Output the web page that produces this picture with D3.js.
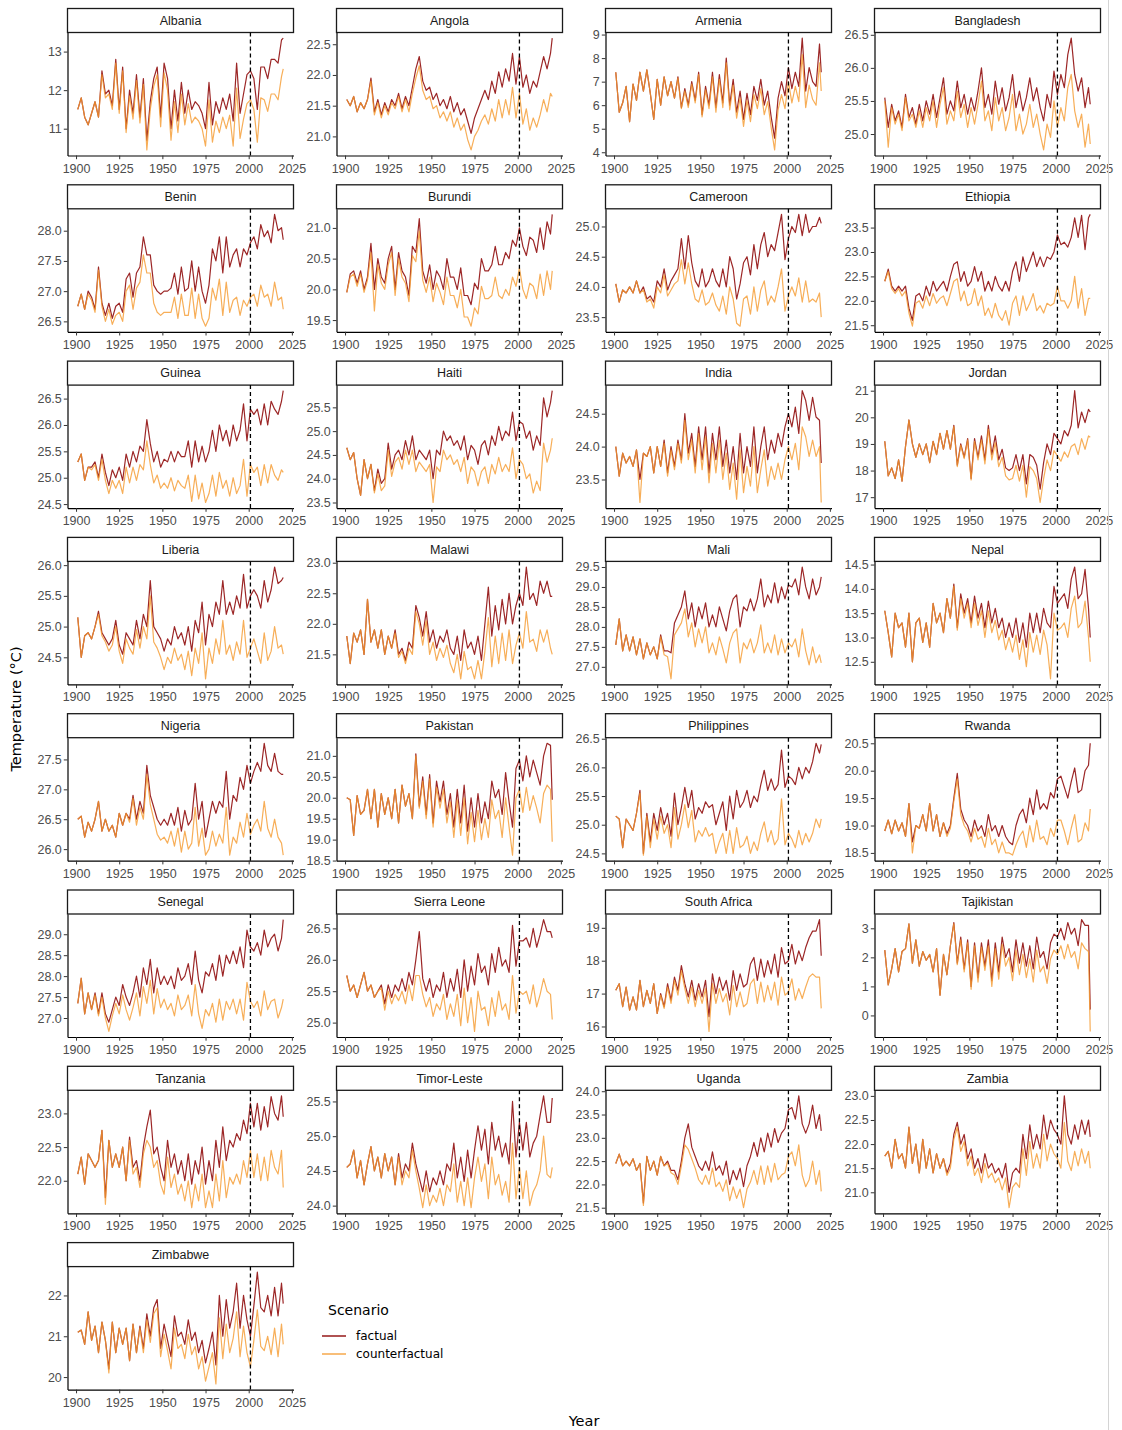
<!DOCTYPE html>
<html>
<head>
<meta charset="utf-8">
<script src="https://cdn.jsdelivr.net/npm/d3@7"></script>
<style>
  body { margin: 0; background: #fff; }
  svg text { font-family: "Liberation Sans", Arial, sans-serif; }
  .title, .legend text { font-family: "DejaVu Sans", Verdana, sans-serif; }
</style>
</head>
<body>
<svg id="chart" width="1122" height="1430"></svg>
<script>
// odd years 1901..2019 plus the last year
const years = d3.range(1901, 2020, 2).concat([2020]);
const xTicks = [1900, 1925, 1950, 1975, 2000, 2025];
const cutoffYear = 2001;

const countries = ['Albania', 'Angola', 'Armenia', 'Bangladesh', 'Benin', 'Burundi', 'Cameroon', 'Ethiopia',
  'Guinea', 'Haiti', 'India', 'Jordan', 'Liberia', 'Malawi', 'Mali', 'Nepal',
  'Nigeria', 'Pakistan', 'Philippines', 'Rwanda', 'Senegal', 'Sierra Leone', 'South Africa', 'Tajikistan',
  'Tanzania', 'Timor-Leste', 'Uganda', 'Zambia', 'Zimbabwe'];

const yTickValues = [
  [11, 12, 13], [21, 21.5, 22, 22.5], [4, 5, 6, 7, 8, 9], [25, 25.5, 26, 26.5],
  [26.5, 27, 27.5, 28], [19.5, 20, 20.5, 21], [23.5, 24, 24.5, 25], [21.5, 22, 22.5, 23, 23.5],
  [24.5, 25, 25.5, 26, 26.5], [23.5, 24, 24.5, 25, 25.5], [23.5, 24, 24.5], [17, 18, 19, 20, 21],
  [24.5, 25, 25.5, 26], [21.5, 22, 22.5, 23], [27, 27.5, 28, 28.5, 29, 29.5], [12.5, 13, 13.5, 14, 14.5],
  [26, 26.5, 27, 27.5], [18.5, 19, 19.5, 20, 20.5, 21], [24.5, 25, 25.5, 26, 26.5], [18.5, 19, 19.5, 20, 20.5],
  [27, 27.5, 28, 28.5, 29], [25, 25.5, 26, 26.5], [16, 17, 18, 19], [0, 1, 2, 3],
  [21.5, 22, 22.5, 23], [24, 24.5, 25, 25.5], [21.5, 22, 22.5, 23, 23.5, 24], [21, 21.5, 22, 22.5, 23],
  [20, 21, 22]
];

const albaniaFactual = [11.5, 11.8, 11.3, 11.1, 11.4, 11.7, 11.3, 12.5, 11.9, 12.0,
  11.6, 12.8, 11.5, 12.6, 11.0, 12.0, 11.4, 12.4, 11.3, 12.3,
  10.7, 11.7, 12.3, 12.6, 11.3, 12.7, 12.3, 11.0, 12.0, 11.2,
  12.2, 11.4, 12.0, 11.5, 11.7, 11.6, 11.4, 11.0, 12.2, 11.1,
  11.7, 11.4, 11.8, 11.5, 11.9, 11.2, 12.7, 11.4, 11.9, 12.4,
  12.5, 12.3, 11.5, 12.6, 12.6, 12.3, 12.8, 12.8, 12.7, 13.3, 13.35];
const albaniaCounter = [11.5, 11.8, 11.3, 11.1, 11.4, 11.7, 11.3, 12.4, 11.8, 11.9,
  11.5, 12.7, 11.4, 12.5, 10.9, 11.85, 11.25, 12.25, 11.15, 12.15,
  10.45, 11.5, 12.1, 12.4, 11.05, 12.45, 12.0, 10.7, 11.7, 10.9,
  11.9, 11.1, 11.65, 11.15, 11.3, 11.2, 11.0, 10.55, 11.75, 10.65,
  11.2, 10.9, 11.3, 11.0, 11.35, 10.55, 12.05, 10.75, 11.25, 11.65,
  11.75, 11.5, 10.65, 11.8, 11.75, 11.45, 11.9, 11.9, 11.75, 12.35, 12.55];

const angolaFactual = [21.6, 21.5, 21.65, 21.4, 21.55, 21.45, 21.6, 21.95, 21.4, 21.6,
  21.35, 21.55, 21.4, 21.6, 21.5, 21.7, 21.45, 21.65, 21.5, 21.8,
  22.1, 22.3, 21.9, 21.75, 21.8, 21.6, 21.7, 21.5, 21.6, 21.45,
  21.65, 21.4, 21.55, 21.35, 21.45, 21.25, 21.05, 21.3, 21.45, 21.6,
  21.75, 21.6, 21.9, 21.7, 22.05, 21.8, 22.1, 21.9, 22.35, 21.85,
  22.3, 21.8, 22.0, 21.7, 21.9, 21.8, 22.05, 22.3, 22.1, 22.35, 22.6];
const angolaCounter = [21.6, 21.5, 21.65, 21.4, 21.55, 21.45, 21.6, 21.9, 21.35, 21.55,
  21.3, 21.5, 21.35, 21.55, 21.45, 21.65, 21.4, 21.6, 21.4, 21.7,
  21.95, 22.15, 21.75, 21.6, 21.65, 21.45, 21.5, 21.3, 21.4, 21.25,
  21.4, 21.15, 21.3, 21.1, 21.2, 20.95, 20.78, 21.0, 21.1, 21.25,
  21.35, 21.2, 21.45, 21.25, 21.6, 21.3, 21.6, 21.35, 21.8, 21.3,
  21.7, 21.2, 21.45, 21.1, 21.3, 21.15, 21.35, 21.6, 21.4, 21.7, 21.65];

const armeniaFactual = [7.4, 5.7, 6.1, 6.8, 5.3, 6.9, 6.2, 7.4, 6.6, 7.5,
  6.5, 5.4, 7.1, 6.0, 7.2, 6.4, 7.0, 6.3, 7.2, 5.9,
  6.7, 6.0, 7.0, 6.2, 7.4, 5.6, 6.8, 6.0, 7.4, 5.9,
  7.3, 6.1, 8.0, 6.0, 7.1, 5.7, 6.6, 5.4, 6.5, 5.6,
  6.8, 6.2, 7.1, 6.0, 6.6, 5.5, 4.6, 6.3, 7.0, 6.4,
  7.6, 6.7, 7.4, 6.8, 8.85, 6.6, 7.6, 7.0, 6.8, 8.6, 7.4];
const armeniaCounter = [7.4, 5.7, 6.1, 6.8, 5.3, 6.9, 6.2, 7.4, 6.6, 7.5,
  6.5, 5.4, 7.1, 6.0, 7.2, 6.4, 7.0, 6.3, 7.15, 5.85,
  6.6, 5.9, 6.9, 6.1, 7.3, 5.5, 6.65, 5.85, 7.2, 5.7,
  7.1, 5.9, 7.8, 5.8, 6.85, 5.45, 6.3, 5.1, 6.2, 5.3,
  6.45, 5.85, 6.7, 5.6, 6.15, 5.05, 4.1, 5.8, 6.45, 5.85,
  7.0, 6.1, 6.8, 6.15, 8.15, 5.9, 6.85, 6.25, 6.0, 7.8, 6.6];

const bangladeshFactual = [25.55, 25.1, 25.45, 25.2, 25.35, 25.1, 25.6, 25.25, 25.4, 25.15,
  25.45, 25.2, 25.5, 25.3, 25.6, 25.25, 25.55, 25.85, 25.3, 25.5,
  25.35, 25.8, 25.4, 25.6, 25.3, 25.55, 25.35, 25.65, 26.0, 25.4,
  25.6, 25.3, 25.8, 25.45, 25.7, 25.35, 25.55, 25.9, 25.4, 25.65,
  25.35, 25.55, 25.85, 25.5, 25.7, 25.4, 25.2, 25.6, 25.4, 25.95,
  25.6, 25.9, 25.7, 26.2, 26.45, 25.9, 25.65, 25.85, 25.4, 25.7, 25.45];
const bangladeshCounter = [25.5, 24.8, 25.4, 25.15, 25.3, 25.05, 25.55, 25.2, 25.3, 25.1,
  25.35, 25.1, 25.4, 25.2, 25.5, 25.1, 25.45, 25.7, 25.15, 25.35,
  25.2, 25.65, 25.25, 25.45, 25.1, 25.4, 25.15, 25.45, 25.8, 25.2,
  25.35, 25.05, 25.55, 25.2, 25.4, 25.05, 25.25, 25.6, 25.05, 25.3,
  25.0, 25.15, 25.45, 25.1, 25.3, 25.0, 24.76, 25.15, 24.95, 25.5,
  25.1, 25.4, 25.2, 25.7, 25.9, 25.35, 25.1, 25.3, 24.8, 25.15, 24.85];

const beninFactual = [26.75, 26.95, 26.7, 27.0, 26.9, 26.7, 27.4, 26.8, 26.6, 26.8,
  26.55, 26.75, 26.8, 26.65, 27.2, 27.3, 26.9, 27.3, 27.4, 27.9,
  27.6, 27.6, 27.1, 27.0, 26.95, 27.0, 27.0, 27.05, 27.3, 26.95,
  27.4, 27.0, 27.05, 27.5, 27.0, 27.4, 27.0, 26.8, 27.1, 27.7,
  27.5, 27.9, 27.3, 27.9, 27.4, 27.6, 27.7, 27.4, 27.7, 27.6,
  27.8, 27.9, 27.7, 28.1, 27.9, 28.0, 27.8, 28.27, 28.0, 28.05, 27.85];
const beninCounter = [26.75, 26.95, 26.7, 26.95, 26.85, 26.65, 27.35, 26.75, 26.5, 26.7,
  26.45, 26.6, 26.65, 26.5, 27.0, 27.1, 26.7, 27.05, 27.15, 27.6,
  27.3, 27.3, 26.8, 26.65, 26.6, 26.65, 26.65, 26.65, 26.9, 26.55,
  26.95, 26.6, 26.6, 27.05, 26.55, 26.95, 26.55, 26.42, 26.55, 27.05,
  26.85, 27.2, 26.6, 27.15, 26.65, 26.85, 26.9, 26.6, 26.85, 26.75,
  26.9, 26.95, 26.75, 27.1, 26.9, 26.95, 26.75, 27.15, 26.85, 26.9, 26.7];

const burundiFactual = [19.95, 20.25, 20.3, 20.1, 20.3, 20.0, 20.2, 20.75, 20.0, 20.5,
  20.2, 20.1, 20.5, 20.7, 20.0, 20.6, 20.3, 20.2, 19.9, 20.7,
  20.6, 21.15, 20.3, 20.1, 20.4, 20.0, 20.3, 20.2, 20.0, 20.5,
  20.2, 20.2, 20.0, 20.35, 19.9, 19.9, 19.75, 20.1, 20.0, 20.5,
  20.3, 20.3, 20.4, 20.7, 20.4, 20.4, 20.6, 20.5, 20.8, 20.7,
  21.0, 20.7, 20.55, 20.85, 20.8, 20.6, 21.0, 20.65, 21.1, 20.9, 21.22];
const burundiCounter = [19.95, 20.2, 20.25, 20.05, 20.25, 19.95, 20.15, 20.6, 19.65, 20.4,
  20.1, 20.0, 20.4, 20.6, 19.9, 20.5, 20.2, 20.1, 19.8, 20.55,
  20.45, 20.95, 20.15, 19.95, 20.2, 19.8, 20.1, 19.95, 19.75, 20.2,
  19.9, 19.9, 19.7, 20.0, 19.55, 19.55, 19.4, 19.7, 19.6, 20.05,
  19.85, 19.85, 19.9, 20.2, 19.9, 19.85, 20.0, 19.9, 20.2, 20.05,
  20.35, 20.0, 19.85, 20.1, 20.05, 19.85, 20.25, 19.9, 20.3, 20.0, 20.3];

const cameroonFactual = [24.05, 23.75, 23.95, 23.9, 24.0, 23.9, 24.1, 23.9, 24.0, 23.8,
  23.85, 23.75, 24.1, 24.0, 24.3, 23.95, 24.1, 24.2, 24.3, 24.8,
  24.3, 24.85, 24.4, 24.1, 24.0, 24.3, 24.0, 24.1, 24.3, 24.1,
  24.0, 24.3, 24.0, 24.5, 24.3, 23.8, 24.05, 24.4, 24.5, 24.2,
  24.7, 24.3, 24.7, 24.9, 24.5, 24.7, 24.6, 24.9, 25.2, 24.45,
  24.8, 25.0, 24.9, 25.2, 24.85, 25.2, 24.9, 25.0, 25.0, 25.15, 25.05];
const cameroonCounter = [24.05, 23.75, 23.95, 23.9, 24.0, 23.9, 24.1, 23.9, 23.95, 23.75,
  23.8, 23.65, 24.0, 23.9, 24.2, 23.85, 23.95, 24.05, 24.1, 24.45,
  24.05, 24.4, 24.05, 23.8, 23.75, 23.95, 23.7, 23.75, 23.9, 23.7,
  23.6, 23.85, 23.55, 24.0, 23.8, 23.4, 23.35, 23.8, 23.85, 23.55,
  24.0, 23.6, 23.95, 24.1, 23.7, 23.85, 23.75, 24.0, 24.3, 23.6,
  23.85, 24.0, 23.85, 24.15, 23.75, 24.1, 23.75, 23.8, 23.75, 23.9, 23.5];

const ethiopiaFactual = [22.4, 22.65, 22.3, 22.2, 22.3, 22.2, 22.3, 21.85, 21.6, 22.1,
  22.15, 22.0, 22.3, 22.1, 22.4, 22.2, 22.3, 22.4, 22.2, 22.5,
  22.75, 22.8, 22.4, 22.6, 22.3, 22.4, 22.7, 22.4, 22.6, 22.2,
  22.4, 22.2, 22.5, 22.3, 22.2, 22.4, 22.2, 22.6, 22.8, 22.4,
  22.9, 22.6, 22.8, 23.0, 22.7, 22.9, 22.7, 22.9, 22.85, 23.0,
  23.35, 23.15, 23.2, 23.1, 23.3, 23.7, 23.3, 23.75, 23.05, 23.7, 23.77];
const ethiopiaCounter = [22.4, 22.6, 22.25, 22.15, 22.25, 22.1, 22.2, 21.75, 21.48, 21.95,
  22.0, 21.85, 22.1, 21.9, 22.15, 21.95, 22.05, 22.1, 21.9, 22.15,
  22.4, 22.45, 22.0, 22.2, 21.9, 21.95, 22.25, 21.9, 22.1, 21.7,
  21.85, 21.65, 21.95, 21.7, 21.6, 21.8, 21.5, 21.95, 22.1, 21.7,
  22.1, 21.8, 21.95, 22.15, 21.8, 21.9, 21.75, 21.95, 21.9, 21.95,
  22.3, 22.0, 22.0, 21.85, 22.0, 22.5, 21.85, 22.25, 21.7, 22.05, 22.05];

const guineaFactual = [25.3, 25.45, 24.95, 25.2, 25.2, 25.3, 25.0, 25.45, 25.1, 24.85,
  25.15, 25.0, 25.2, 24.95, 25.45, 25.2, 25.5, 25.3, 25.6, 25.5,
  26.1, 25.65, 25.3, 25.5, 25.2, 25.35, 25.3, 25.5, 25.3, 25.5,
  25.4, 25.4, 25.7, 25.2, 25.7, 25.3, 25.6, 25.3, 25.5, 25.9,
  25.5, 26.0, 25.7, 25.9, 25.6, 26.0, 25.7, 25.9, 26.4, 25.7,
  26.3, 26.2, 26.3, 26.0, 26.4, 26.0, 26.45, 26.3, 26.2, 26.45, 26.65];
const guineaCounter = [25.3, 25.45, 24.95, 25.2, 25.15, 25.25, 24.95, 25.35, 24.95, 24.7,
  24.95, 24.8, 24.95, 24.7, 25.2, 24.9, 25.2, 24.95, 25.25, 25.15,
  25.7, 25.25, 24.9, 25.05, 24.8, 24.9, 24.8, 25.0, 24.75, 24.95,
  24.85, 24.8, 25.05, 24.55, 25.05, 24.6, 24.9, 24.53, 24.7, 25.05,
  24.65, 25.1, 24.8, 24.95, 24.65, 25.0, 24.7, 24.85, 25.35, 24.65,
  25.25, 25.1, 25.2, 24.85, 25.25, 24.9, 25.25, 25.05, 24.95, 25.15, 25.1];

const haitiFactual = [24.65, 24.4, 24.55, 24.0, 23.65, 24.4, 24.0, 24.3, 23.75, 24.2,
  23.9, 24.0, 24.75, 24.2, 24.5, 24.6, 24.4, 24.8, 24.5, 24.9,
  24.4, 24.6, 24.5, 24.4, 24.6, 24.0, 24.6, 24.5, 25.0, 24.8,
  24.9, 24.7, 24.8, 24.6, 24.9, 24.4, 24.7, 24.6, 24.3, 24.7,
  24.8, 24.5, 24.9, 24.7, 25.1, 24.8, 25.0, 24.9, 25.4, 24.8,
  25.2, 25.15, 24.85, 25.0, 24.6, 24.9, 24.7, 25.7, 25.3, 25.6, 25.85];
const haitiCounter = [24.65, 24.4, 24.55, 24.0, 23.65, 24.4, 24.0, 24.3, 23.7, 24.1,
  23.75, 23.85, 24.6, 24.05, 24.35, 24.45, 24.2, 24.6, 24.3, 24.6,
  24.15, 24.35, 24.25, 24.15, 24.3, 23.5, 24.25, 24.15, 24.6, 24.4,
  24.5, 24.3, 24.4, 24.15, 24.45, 23.9, 24.25, 24.15, 23.85, 24.15,
  24.25, 23.9, 24.3, 24.1, 24.45, 24.15, 24.3, 24.15, 24.65, 24.0,
  24.4, 24.3, 24.0, 24.1, 23.7, 23.95, 23.75, 24.75, 24.35, 24.6, 24.85];

const indiaFactual = [24.0, 23.55, 23.9, 23.75, 23.85, 23.7, 23.95, 23.5, 23.9, 23.85,
  24.0, 23.6, 24.0, 23.7, 24.1, 23.6, 24.0, 23.7, 24.1, 23.8,
  24.5, 23.9, 24.2, 23.7, 24.3, 23.8, 24.3, 23.6, 24.2, 23.8,
  24.3, 23.7, 24.1, 23.6, 24.0, 23.5, 24.2, 23.6, 24.0, 23.7,
  24.3, 23.6, 24.0, 24.3, 23.8, 24.1, 23.9, 24.2, 24.0, 24.3,
  24.5, 24.3, 24.6, 24.2, 24.85, 24.7, 24.4, 24.75, 24.45, 24.4, 23.75];
const indiaCounter = [24.0, 23.55, 23.9, 23.75, 23.85, 23.7, 23.95, 23.15, 23.9, 23.85,
  24.0, 23.6, 24.0, 23.7, 24.05, 23.55, 23.95, 23.65, 24.05, 23.75,
  24.4, 23.8, 24.1, 23.6, 24.2, 23.65, 24.15, 23.45, 24.05, 23.6,
  24.1, 23.5, 23.9, 23.35, 23.75, 23.2, 23.95, 23.3, 23.7, 23.4,
  24.0, 23.3, 23.65, 23.95, 23.4, 23.7, 23.5, 23.75, 23.5, 23.8,
  24.0, 23.8, 24.05, 23.65, 24.3, 24.15, 23.85, 24.1, 23.85, 24.0, 23.15];

const jordanFactual = [19.1, 17.8, 18.1, 17.7, 18.4, 17.6, 18.9, 19.9, 19.0, 18.5,
  19.0, 18.6, 19.0, 18.3, 19.1, 18.6, 19.4, 18.8, 19.5, 18.8,
  19.7, 18.2, 19.0, 18.5, 19.2, 17.7, 19.2, 18.5, 19.3, 18.4,
  19.7, 18.6, 19.3, 18.4, 18.8, 18.1, 18.0, 18.1, 18.6, 18.0,
  18.6, 17.5, 18.6, 18.5, 18.2, 17.3, 18.3, 19.0, 18.6, 19.4,
  19.2, 19.0, 19.5, 19.3, 19.7, 21.0, 19.6, 20.2, 19.8, 20.3, 20.2];
const jordanCounter = [19.1, 17.8, 18.1, 17.7, 18.4, 17.6, 18.9, 19.9, 19.0, 18.5,
  19.0, 18.6, 19.0, 18.3, 19.1, 18.6, 19.4, 18.8, 19.5, 18.8,
  19.65, 18.15, 18.95, 18.45, 19.15, 17.65, 19.1, 18.4, 19.15, 18.25,
  19.55, 18.4, 19.05, 18.15, 18.5, 17.8, 17.65, 17.7, 18.2, 17.6,
  18.2, 17.0, 18.15, 18.0, 17.7, 16.8, 17.7, 18.4, 18.0, 18.75,
  18.55, 18.35, 18.7, 18.5, 18.9, 19.0, 18.6, 19.2, 18.8, 19.3, 19.25];

const liberiaFactual = [25.15, 24.5, 24.85, 24.9, 24.8, 25.0, 25.25, 24.9, 24.8, 24.7,
  24.8, 25.1, 24.7, 24.55, 24.9, 24.8, 24.7, 25.1, 24.8, 25.2,
  25.0, 25.75, 25.0, 24.9, 24.8, 24.6, 24.8, 24.7, 25.0, 24.8,
  24.9, 24.7, 25.0, 24.6, 25.1, 24.9, 25.4, 24.7, 25.2, 25.0,
  25.4, 25.2, 25.75, 25.2, 25.4, 25.2, 25.5, 25.3, 25.85, 25.3,
  25.5, 25.6, 25.5, 25.3, 25.75, 25.4, 25.6, 25.97, 25.7, 25.75, 25.8];
const liberiaCounter = [25.15, 24.5, 24.85, 24.9, 24.8, 25.0, 25.2, 24.85, 24.75, 24.6,
  24.7, 25.0, 24.6, 24.4, 24.8, 24.65, 24.55, 24.95, 24.65, 25.0,
  24.8, 25.5, 24.75, 24.65, 24.5, 24.3, 24.5, 24.4, 24.65, 24.45,
  24.55, 24.3, 24.6, 24.2, 24.65, 24.4, 24.9, 24.15, 24.65, 24.4,
  24.8, 24.55, 25.1, 24.55, 24.7, 24.45, 24.75, 24.55, 25.1, 24.5,
  24.65, 24.8, 24.6, 24.4, 24.9, 24.45, 24.6, 25.0, 24.65, 24.7, 24.55];

const malawiFactual = [21.8, 21.35, 21.85, 21.7, 21.9, 21.5, 22.4, 21.7, 21.9, 21.6,
  21.9, 21.5, 21.8, 21.6, 21.9, 21.5, 21.6, 21.4, 21.7, 21.6,
  22.3, 22.1, 21.8, 22.2, 21.7, 21.9, 21.6, 21.8, 21.7, 21.9,
  21.6, 21.5, 21.8, 21.4, 21.9, 21.6, 21.7, 21.5, 21.8, 21.4,
  22.0, 22.6, 21.8, 22.3, 21.9, 22.4, 22.0, 22.5, 22.0, 22.3,
  22.5, 22.3, 22.93, 22.4, 22.5, 22.3, 22.7, 22.5, 22.7, 22.45, 22.45];
const malawiCounter = [21.8, 21.35, 21.85, 21.7, 21.9, 21.5, 22.4, 21.7, 21.9, 21.6,
  21.9, 21.5, 21.8, 21.6, 21.85, 21.45, 21.55, 21.35, 21.6, 21.5,
  22.2, 22.0, 21.65, 22.05, 21.5, 21.7, 21.4, 21.6, 21.45, 21.65,
  21.35, 21.2, 21.5, 21.1, 21.55, 21.25, 21.3, 21.1, 21.4, 21.1,
  21.55, 22.1, 21.3, 21.8, 21.35, 21.85, 21.4, 21.9, 21.35, 21.65,
  21.85, 21.6, 22.2, 21.7, 21.75, 21.55, 21.9, 21.7, 21.9, 21.6, 21.5];

const maliFactual = [27.55, 28.2, 27.4, 27.8, 27.4, 27.75, 27.3, 27.7, 27.2, 27.6,
  27.3, 27.5, 27.2, 27.8, 27.4, 27.4, 27.35, 28.1, 28.3, 28.5,
  28.9, 28.2, 28.6, 28.0, 28.5, 28.2, 28.6, 28.0, 28.3, 28.0,
  28.5, 28.2, 27.9, 28.4, 28.7, 28.8, 28.0, 28.5, 28.4, 28.7,
  28.4, 28.7, 29.2, 28.5, 28.8, 28.6, 29.1, 28.6, 29.0, 28.7,
  29.05, 29.0, 29.2, 28.8, 29.5, 29.0, 28.7, 29.2, 28.8, 29.0, 29.25];
const maliCounter = [27.55, 28.2, 27.4, 27.8, 27.4, 27.75, 27.3, 27.7, 27.2, 27.6,
  27.3, 27.5, 27.2, 27.75, 27.3, 27.25, 26.7, 27.8, 27.95, 28.1,
  28.45, 27.75, 28.1, 27.5, 27.95, 27.6, 28.0, 27.35, 27.6, 27.3,
  27.75, 27.45, 27.1, 27.6, 27.85, 27.95, 27.1, 27.6, 27.45, 27.7,
  27.35, 27.6, 28.05, 27.35, 27.6, 27.35, 27.8, 27.3, 27.7, 27.35,
  27.6, 27.5, 27.7, 27.25, 27.95, 27.4, 27.05, 27.5, 27.1, 27.3, 27.1];

const nepalFactual = [13.55, 13.1, 12.6, 13.5, 13.2, 13.3, 12.8, 13.5, 12.5, 13.3,
  13.4, 12.9, 13.3, 12.8, 13.7, 13.3, 13.5, 13.1, 13.8, 13.4,
  14.1, 13.2, 13.9, 13.5, 13.8, 13.3, 13.85, 13.4, 13.7, 13.2,
  13.75, 13.3, 13.6, 13.2, 13.4, 13.0, 13.3, 13.0, 13.4, 12.9,
  13.3, 12.8, 13.5, 13.1, 13.5, 13.1, 13.6, 13.3, 13.2, 14.05,
  13.7, 13.8, 13.9, 13.6, 14.2, 14.45, 13.8, 13.9, 14.4, 13.6, 13.0];
const nepalCounter = [13.55, 13.1, 12.6, 13.5, 13.2, 13.3, 12.8, 13.5, 12.5, 13.3,
  13.4, 12.9, 13.3, 12.8, 13.7, 13.3, 13.5, 13.1, 13.8, 13.4,
  14.05, 13.15, 13.8, 13.4, 13.7, 13.2, 13.7, 13.25, 13.55, 13.0,
  13.55, 13.1, 13.35, 12.95, 13.15, 12.75, 13.0, 12.7, 13.05, 12.55,
  12.95, 12.4, 13.1, 12.7, 13.05, 12.65, 13.15, 12.85, 12.15, 13.5,
  13.15, 13.2, 13.3, 13.0, 13.6, 13.85, 13.2, 13.3, 13.75, 13.0, 12.5];

const nigeriaFactual = [26.5, 26.55, 26.2, 26.45, 26.3, 26.5, 26.8, 26.3, 26.5, 26.3,
  26.4, 26.2, 26.6, 26.4, 26.6, 26.5, 26.9, 26.5, 26.8, 26.6,
  27.4, 26.9, 26.7, 26.5, 26.4, 26.5, 26.4, 26.6, 26.4, 26.7,
  26.3, 26.65, 26.4, 26.5, 27.1, 26.5, 26.8, 26.2, 26.5, 26.8,
  26.6, 26.8, 26.7, 27.3, 26.5, 26.9, 26.8, 27.2, 27.0, 27.4,
  27.1, 27.3, 27.45, 27.3, 27.77, 27.4, 27.3, 27.6, 27.3, 27.25, 27.25];
const nigeriaCounter = [26.5, 26.55, 26.2, 26.45, 26.3, 26.5, 26.8, 26.3, 26.5, 26.3,
  26.4, 26.2, 26.6, 26.4, 26.6, 26.45, 26.85, 26.4, 26.7, 26.5,
  27.25, 26.75, 26.5, 26.25, 26.15, 26.2, 26.1, 26.3, 26.05, 26.35,
  25.95, 26.3, 26.0, 26.1, 26.7, 26.05, 26.35, 25.9, 26.0, 26.3,
  26.05, 26.25, 26.1, 26.7, 25.9, 26.2, 26.1, 26.45, 26.2, 26.6,
  26.25, 26.4, 26.5, 26.3, 26.8, 26.35, 26.2, 26.5, 26.2, 26.1, 25.9];

const pakistanFactual = [20.0, 19.95, 19.1, 20.05, 19.6, 19.7, 20.2, 19.5, 20.2, 19.3,
  20.1, 19.6, 20.0, 19.5, 20.2, 19.4, 20.3, 19.8, 20.1, 19.5,
  21.05, 19.8, 20.5, 19.6, 20.55, 19.4, 20.4, 19.9, 20.4, 19.6,
  20.1, 19.3, 20.2, 19.4, 20.3, 19.2, 20.0, 19.3, 20.1, 19.4,
  19.9, 19.5, 20.4, 20.0, 20.2, 19.6, 20.6, 19.9, 19.3, 20.7,
  20.9, 20.4, 21.0, 20.5, 20.9, 20.6, 20.3, 21.0, 21.3, 21.25, 19.95];
const pakistanCounter = [20.0, 19.95, 19.1, 20.05, 19.6, 19.7, 20.2, 19.5, 20.2, 19.3,
  20.1, 19.6, 20.0, 19.5, 20.2, 19.4, 20.3, 19.8, 20.1, 19.5,
  21.0, 19.75, 20.4, 19.5, 20.45, 19.3, 20.25, 19.75, 20.2, 19.4,
  19.9, 19.05, 19.95, 19.1, 20.0, 18.9, 19.65, 18.95, 19.7, 19.0,
  19.5, 19.05, 19.95, 19.5, 19.7, 19.05, 20.0, 19.3, 18.63, 20.0,
  20.2, 19.65, 20.25, 19.7, 20.05, 19.75, 19.4, 20.1, 20.3, 20.2, 18.95];

const philippinesFactual = [25.15, 25.1, 24.6, 25.1, 25.0, 24.9, 25.2, 25.6, 24.5, 25.2,
  24.7, 25.2, 24.9, 25.3, 25.0, 25.2, 24.8, 25.55, 25.0, 25.3,
  25.65, 25.3, 25.6, 25.1, 25.3, 25.2, 25.4, 25.3, 25.35, 25.0,
  25.2, 25.4, 24.9, 25.5, 25.1, 25.6, 25.3, 25.4, 25.6, 25.3,
  25.5, 25.4, 25.7, 25.95, 25.6, 25.8, 25.6, 25.7, 26.3, 25.65,
  25.85, 25.8, 25.7, 26.0, 25.8, 26.0, 25.9, 26.1, 26.42, 26.25, 26.4];
const philippinesCounter = [25.15, 25.1, 24.6, 25.1, 25.0, 24.9, 25.2, 25.55, 24.47, 25.15,
  24.6, 25.1, 24.75, 25.15, 24.85, 25.0, 24.6, 25.3, 24.75, 25.0,
  25.35, 24.95, 25.25, 24.7, 24.9, 24.8, 24.95, 24.8, 24.85, 24.5,
  24.7, 24.85, 24.5, 24.9, 24.5, 24.95, 24.6, 24.65, 24.8, 24.5,
  24.7, 24.55, 24.85, 25.05, 24.7, 24.9, 24.65, 24.75, 25.45, 24.65,
  24.85, 24.75, 24.6, 24.9, 24.65, 24.85, 24.7, 24.85, 25.1, 24.95, 25.1];

const rwandaFactual = [18.9, 19.1, 18.85, 19.1, 18.9, 19.05, 18.8, 19.4, 18.7, 19.0,
  18.95, 19.2, 18.9, 19.4, 18.9, 19.2, 18.8, 19.05, 18.85, 19.0,
  19.5, 19.95, 19.3, 19.1, 19.0, 18.8, 19.1, 18.9, 19.0, 18.8,
  19.2, 18.9, 19.0, 18.8, 19.0, 18.8, 18.7, 18.65, 19.0, 19.2,
  19.3, 19.05, 19.5, 19.2, 19.65, 19.3, 19.4, 19.3, 19.6, 19.5,
  19.85, 19.9, 19.7, 19.5, 19.8, 20.05, 19.6, 19.65, 20.0, 20.1, 20.5];
const rwandaCounter = [18.9, 19.1, 18.85, 19.1, 18.9, 19.05, 18.8, 19.4, 18.5, 19.0,
  18.95, 19.2, 18.9, 19.4, 18.9, 19.2, 18.8, 19.05, 18.8, 18.95,
  19.45, 19.85, 19.2, 19.0, 18.9, 18.7, 18.95, 18.75, 18.8, 18.6,
  18.95, 18.65, 18.75, 18.5, 18.7, 18.5, 18.5, 18.46, 18.65, 18.8,
  18.9, 18.6, 19.0, 18.7, 19.1, 18.75, 18.8, 18.65, 18.95, 18.8,
  19.1, 19.1, 18.9, 18.65, 18.95, 19.2, 18.7, 18.75, 19.05, 18.9, 19.3];

const senegalFactual = [27.35, 27.95, 27.1, 27.6, 27.2, 27.6, 27.1, 27.6, 27.1, 26.9,
  27.2, 27.5, 27.3, 27.8, 27.5, 27.3, 27.6, 28.0, 27.5, 28.2,
  27.8, 28.4, 27.6, 28.2, 27.8, 28.0, 27.8, 28.0, 27.7, 28.2,
  27.9, 28.0, 28.3, 27.8, 28.6, 27.9, 27.6, 28.1, 28.0, 28.3,
  27.9, 28.5, 28.0, 28.5, 28.3, 28.6, 28.3, 28.7, 28.2, 29.1,
  28.7, 28.6, 28.8, 28.5, 29.1, 28.7, 28.9, 29.0, 28.6, 28.9, 29.35];
const senegalCounter = [27.35, 27.95, 27.1, 27.6, 27.2, 27.55, 27.05, 27.5, 27.0, 26.68,
  27.05, 27.35, 27.1, 27.55, 27.2, 26.95, 27.25, 27.6, 27.05, 27.75,
  27.35, 27.9, 27.1, 27.7, 27.25, 27.45, 27.2, 27.35, 27.05, 27.55,
  27.2, 27.3, 27.55, 27.05, 27.8, 27.1, 26.75, 27.2, 27.05, 27.35,
  26.9, 27.45, 26.95, 27.4, 27.2, 27.45, 27.1, 27.45, 26.95, 27.85,
  27.4, 27.25, 27.4, 27.05, 27.65, 27.2, 27.4, 27.45, 27.0, 27.25, 27.45];

const sierraLeoneFactual = [25.75, 25.5, 25.6, 25.4, 25.6, 25.8, 25.5, 25.6, 25.4, 25.5,
  25.6, 25.3, 25.6, 25.4, 25.6, 25.5, 25.7, 25.5, 25.8, 25.6,
  26.0, 26.45, 25.7, 25.5, 25.7, 25.4, 25.6, 25.5, 25.8, 25.4,
  25.7, 25.5, 25.85, 25.4, 26.0, 25.5, 25.9, 25.6, 26.1, 25.8,
  25.9, 25.6, 26.1, 25.8, 26.2, 25.9, 26.0, 25.8, 26.55, 25.9,
  26.3, 26.3, 26.35, 26.2, 26.5, 26.2, 26.4, 26.64, 26.45, 26.45, 26.35];
const sierraLeoneCounter = [25.75, 25.5, 25.6, 25.4, 25.6, 25.8, 25.5, 25.6, 25.4, 25.5,
  25.55, 25.2, 25.5, 25.3, 25.45, 25.35, 25.5, 25.3, 25.6, 25.35,
  25.75, 25.75, 25.45, 25.25, 25.4, 25.1, 25.3, 25.2, 25.45, 25.05,
  25.3, 25.1, 25.45, 24.95, 25.55, 25.0, 25.4, 24.86, 25.5, 25.2,
  25.25, 24.95, 25.4, 25.1, 25.5, 25.2, 25.3, 25.05, 25.75, 25.15,
  25.5, 25.45, 25.5, 25.3, 25.6, 25.25, 25.45, 25.7, 25.5, 25.45, 25.05];

const southAfricaFactual = [17.1, 17.3, 16.6, 17.2, 16.5, 16.9, 16.5, 17.4, 16.6, 17.1,
  16.7, 17.3, 16.4, 17.0, 16.6, 17.3, 16.8, 17.5, 17.1, 17.85,
  17.3, 16.9, 17.4, 16.8, 17.3, 16.9, 17.4, 16.3, 17.6, 17.0,
  17.5, 17.1, 17.4, 16.8, 17.7, 17.1, 17.6, 17.2, 17.3, 17.9,
  18.1, 17.4, 18.05, 17.5, 18.0, 17.6, 18.2, 17.5, 18.4, 17.9,
  18.0, 18.5, 17.9, 18.3, 18.0, 18.4, 18.7, 18.9, 18.9, 19.25, 18.15];
const southAfricaCounter = [17.1, 17.3, 16.6, 17.2, 16.5, 16.9, 16.5, 17.4, 16.6, 17.1,
  16.7, 17.3, 16.4, 16.95, 16.55, 17.2, 16.7, 17.4, 16.95, 17.7,
  17.15, 16.7, 17.2, 16.6, 17.1, 16.7, 17.15, 15.85, 17.3, 16.7,
  17.15, 16.75, 17.0, 16.35, 17.25, 16.6, 17.05, 16.6, 16.7, 17.3,
  17.45, 16.7, 17.35, 16.75, 17.25, 16.8, 17.35, 16.65, 17.5, 16.95,
  17.05, 17.45, 16.8, 17.15, 16.85, 17.2, 17.5, 17.6, 17.5, 17.5, 16.55];

const tajikistanFactual = [2.25, 1.05, 1.6, 2.3, 1.5, 2.2, 2.3, 3.15, 1.8, 2.6,
  1.7, 2.2, 1.9, 2.1, 1.5, 2.3, 0.7, 2.1, 1.4, 2.4,
  3.2, 1.8, 2.7, 1.6, 2.6, 1.0, 2.5, 1.3, 2.5, 1.7,
  2.6, 1.2, 2.5, 1.5, 2.7, 2.0, 2.3, 1.5, 2.6, 1.8,
  2.5, 1.7, 2.4, 1.6, 2.7, 2.0, 2.2, 1.6, 2.5, 2.8,
  2.7, 3.0, 2.6, 3.2, 2.8, 3.0, 2.4, 3.3, 3.1, 3.1, 0.2];
const tajikistanCounter = [2.25, 1.05, 1.6, 2.3, 1.5, 2.2, 2.3, 3.15, 1.8, 2.6,
  1.7, 2.2, 1.9, 2.1, 1.5, 2.3, 0.7, 2.1, 1.4, 2.4,
  3.15, 1.75, 2.6, 1.5, 2.5, 0.9, 2.4, 1.15, 2.35, 1.55,
  2.4, 1.0, 2.3, 1.25, 2.45, 1.7, 2.0, 1.2, 2.25, 1.4,
  2.1, 1.3, 1.95, 1.15, 2.25, 1.5, 1.7, 1.1, 1.95, 2.25,
  2.1, 2.4, 1.95, 2.45, 2.0, 2.2, 1.6, 2.5, 2.3, 2.2, -0.55];

const tanzaniaFactual = [22.1, 22.35, 21.95, 22.4, 22.3, 22.2, 22.3, 22.75, 21.75, 22.6,
  22.2, 22.4, 22.2, 22.5, 22.0, 22.65, 22.2, 22.3, 22.0, 22.5,
  22.8, 23.05, 22.4, 22.5, 22.2, 22.0, 22.6, 22.2, 22.4, 22.1,
  22.3, 22.0, 22.4, 21.95, 22.3, 22.1, 22.5, 21.95, 22.3, 22.0,
  22.6, 22.2, 22.8, 22.3, 22.6, 22.5, 22.7, 22.6, 22.9, 22.7,
  23.15, 22.8, 23.15, 22.75, 23.1, 22.8, 23.25, 23.0, 22.9, 23.26, 22.95];
const tanzaniaCounter = [22.1, 22.35, 21.95, 22.4, 22.3, 22.2, 22.3, 22.75, 21.65, 22.6,
  22.2, 22.4, 22.2, 22.5, 22.0, 22.6, 22.1, 22.2, 21.9, 22.4,
  22.6, 22.5, 22.2, 22.3, 21.95, 21.8, 22.35, 21.9, 22.1, 21.8,
  21.95, 21.7, 22.0, 21.6, 21.95, 21.7, 22.1, 21.6, 21.85, 21.6,
  22.1, 21.7, 22.3, 21.75, 22.05, 21.95, 22.1, 21.95, 22.3, 22.05,
  22.45, 22.05, 22.4, 22.0, 22.35, 22.0, 22.45, 22.2, 22.1, 22.45, 21.9];

const timorLesteFactual = [24.55, 24.6, 24.8, 24.4, 24.65, 24.3, 24.6, 24.85, 24.5, 24.7,
  24.4, 24.75, 24.5, 24.7, 24.3, 24.75, 24.4, 24.6, 24.5, 24.9,
  24.6, 24.4, 24.2, 24.5, 24.2, 24.4, 24.3, 24.5, 24.3, 24.6,
  24.5, 24.9, 24.4, 24.7, 24.35, 24.8, 24.4, 24.8, 25.15, 24.8,
  25.1, 24.6, 25.2, 24.8, 25.0, 24.7, 24.9, 24.6, 25.5, 24.7,
  25.2, 24.8, 25.2, 24.7, 24.9, 25.0, 25.3, 25.58, 25.2, 25.2, 25.55];
const timorLesteCounter = [24.55, 24.6, 24.8, 24.4, 24.65, 24.3, 24.6, 24.85, 24.5, 24.7,
  24.4, 24.75, 24.5, 24.7, 24.3, 24.7, 24.3, 24.5, 24.4, 24.8,
  24.5, 24.25, 23.97, 24.3, 24.0, 24.15, 24.05, 24.25, 24.0, 24.3,
  24.2, 24.6, 24.05, 24.35, 24.0, 24.4, 23.97, 24.4, 24.7, 24.35,
  24.6, 24.1, 24.7, 24.3, 24.45, 24.15, 24.35, 24.05, 24.9, 24.1,
  24.55, 24.1, 24.5, 24.0, 24.2, 24.3, 24.5, 25.0, 24.45, 24.4, 24.55];

const ugandaFactual = [22.45, 22.65, 22.4, 22.5, 22.4, 22.55, 22.3, 22.45, 21.6, 22.6,
  22.3, 22.5, 22.2, 22.6, 22.4, 22.5, 22.3, 22.3, 22.1, 22.5,
  23.0, 23.3, 22.8, 22.6, 22.4, 22.3, 22.5, 22.3, 22.7, 22.3,
  22.4, 22.2, 22.5, 22.0, 22.3, 22.1, 22.35, 21.95, 22.4, 22.6,
  22.9, 22.6, 23.0, 22.7, 23.1, 22.8, 23.2, 22.9, 23.1, 23.2,
  23.6, 23.65, 23.4, 23.9, 23.3, 23.1, 23.3, 23.7, 23.2, 23.5, 23.15];
const ugandaCounter = [22.45, 22.65, 22.4, 22.5, 22.4, 22.55, 22.3, 22.45, 21.55, 22.6,
  22.3, 22.5, 22.2, 22.6, 22.4, 22.45, 22.25, 22.2, 22.0, 22.4,
  22.85, 22.75, 22.55, 22.35, 22.1, 22.0, 22.2, 22.0, 22.35, 21.95,
  22.05, 21.85, 22.1, 21.65, 21.95, 21.7, 21.9, 21.5, 21.9, 22.05,
  22.3, 22.0, 22.4, 22.0, 22.4, 22.05, 22.45, 22.1, 22.2, 22.25,
  22.6, 22.7, 22.4, 22.85, 22.2, 21.95, 22.1, 22.5, 22.0, 22.3, 21.85];

const zambiaFactual = [21.75, 21.85, 21.5, 22.1, 21.7, 21.8, 21.5, 22.35, 21.6, 22.0,
  21.4, 22.1, 21.5, 21.9, 21.4, 21.8, 21.5, 21.7, 21.4, 21.6,
  22.2, 22.45, 22.0, 22.2, 21.7, 21.9, 21.5, 21.7, 21.4, 21.8,
  21.5, 21.6, 21.4, 21.5, 21.3, 21.6, 21.0, 21.4, 21.5, 21.4,
  22.2, 21.7, 22.4, 21.9, 22.2, 21.9, 22.6, 22.1, 22.5, 22.3,
  22.2, 22.0, 23.0, 22.2, 22.0, 22.4, 22.1, 22.5, 22.2, 22.5, 22.15];
const zambiaCounter = [21.75, 21.85, 21.5, 22.1, 21.7, 21.8, 21.5, 22.35, 21.6, 22.0,
  21.4, 22.1, 21.5, 21.9, 21.4, 21.8, 21.5, 21.7, 21.35, 21.5,
  22.1, 22.35, 21.85, 22.05, 21.55, 21.75, 21.35, 21.5, 21.2, 21.6,
  21.3, 21.4, 21.2, 21.3, 21.05, 21.3, 20.68, 21.1, 21.2, 21.1,
  21.9, 21.35, 22.05, 21.5, 21.8, 21.5, 22.2, 21.65, 22.0, 21.8,
  21.7, 21.5, 22.45, 21.65, 21.45, 21.85, 21.55, 21.9, 21.6, 21.85, 21.5];

const zimbabweFactual = [21.1, 21.15, 20.8, 21.6, 20.9, 21.25, 20.6, 21.35, 20.9, 20.2,
  21.35, 20.6, 21.2, 20.8, 21.2, 20.4, 21.3, 20.6, 21.25, 20.7,
  21.55, 21.0, 21.7, 21.9, 20.7, 21.3, 20.9, 20.5, 21.5, 21.0,
  21.1, 20.8, 21.4, 20.9, 21.1, 20.6, 20.9, 20.35, 20.7, 21.1,
  20.3, 22.0, 21.0, 21.9, 21.2, 21.6, 22.3, 21.2, 22.0, 21.4,
  21.0, 21.75, 22.57, 21.7, 21.6, 22.0, 21.5, 22.2, 21.5, 22.3, 21.8];
const zimbabweCounter = [21.1, 21.15, 20.8, 21.6, 20.9, 21.25, 20.6, 21.35, 20.9, 20.1,
  21.35, 20.6, 21.2, 20.8, 21.2, 20.4, 21.3, 20.6, 21.2, 20.6,
  21.4, 20.85, 21.55, 21.7, 20.5, 21.05, 20.65, 20.2, 21.2, 20.7,
  20.8, 20.45, 21.05, 20.55, 20.75, 20.2, 20.5, 19.9, 20.25, 20.6,
  19.83, 21.45, 20.45, 21.3, 20.6, 20.95, 21.6, 20.5, 21.25, 20.6,
  20.25, 20.9, 21.65, 20.75, 20.65, 21.0, 20.55, 21.2, 20.5, 21.3, 20.8];

const factualSeries = [albaniaFactual, angolaFactual, armeniaFactual, bangladeshFactual,
  beninFactual, burundiFactual, cameroonFactual, ethiopiaFactual,
  guineaFactual, haitiFactual, indiaFactual, jordanFactual,
  liberiaFactual, malawiFactual, maliFactual, nepalFactual,
  nigeriaFactual, pakistanFactual, philippinesFactual, rwandaFactual,
  senegalFactual, sierraLeoneFactual, southAfricaFactual, tajikistanFactual,
  tanzaniaFactual, timorLesteFactual, ugandaFactual, zambiaFactual, zimbabweFactual];
const counterSeries = [albaniaCounter, angolaCounter, armeniaCounter, bangladeshCounter,
  beninCounter, burundiCounter, cameroonCounter, ethiopiaCounter,
  guineaCounter, haitiCounter, indiaCounter, jordanCounter,
  liberiaCounter, malawiCounter, maliCounter, nepalCounter,
  nigeriaCounter, pakistanCounter, philippinesCounter, rwandaCounter,
  senegalCounter, sierraLeoneCounter, southAfricaCounter, tajikistanCounter,
  tanzaniaCounter, timorLesteCounter, ugandaCounter, zambiaCounter, zimbabweCounter];

const scenarios = ['factual', 'counterfactual'];
const colors = { factual: '#8B0000', counterfactual: '#F59A2E' };
const opacity = { factual: 0.85, counterfactual: 0.8 };

// layout
const svg = d3.select('#chart');
const nCols = 4;
const colLeft = 67.5, colStep = 269, panelW = 226;
const rowTop = 8.5, rowStep = 176.3, stripH = 24, panelH = 123;

const panels = countries.map((name, i) => ({
  name,
  ticks: yTickValues[i],
  series: scenarios.map(s => ({
    scenario: s,
    values: (s === 'factual' ? factualSeries[i] : counterSeries[i]).map((v, j) => ({ year: years[j], value: v }))
  }))
}));

const [yr0, yr1] = d3.extent(years);
const xPad = (yr1 - yr0) * 0.05;
const x = d3.scaleLinear().domain([yr0 - xPad, yr1 + xPad]).range([0, panelW]);

panels.forEach((p, i) => {
  const col = i % nCols, row = Math.floor(i / nCols);
  const g = svg.append('g')
    .attr('transform', 'translate(' + (colLeft + col * colStep) + ',' + (rowTop + row * rowStep) + ')');

  // strip
  g.append('rect')
    .attr('width', panelW).attr('height', stripH)
    .attr('fill', '#fff').attr('stroke', '#1a1a1a').attr('stroke-width', 1.3);
  g.append('text')
    .attr('x', panelW / 2).attr('y', stripH / 2).attr('dy', '0.35em')
    .attr('text-anchor', 'middle').attr('fill', '#1a1a1a')
    .style('font-size', '12.5px')
    .text(p.name);

  const plot = g.append('g').attr('transform', 'translate(0,' + stripH + ')');

  const all = p.series.flatMap(s => s.values.map(d => d.value));
  const [lo, hi] = d3.extent(all);
  const yPad = (hi - lo) * 0.05;
  const y = d3.scaleLinear().domain([lo - yPad, hi + yPad]).range([panelH, 0]);

  const line = d3.line()
    .x(d => x(d.year))
    .y(d => y(d.value));

  plot.selectAll('.series')
    .data(p.series)
    .enter()
    .append('path')
    .attr('class', 'series')
    .attr('d', d => line(d.values))
    .attr('fill', 'none')
    .attr('stroke', d => colors[d.scenario])
    .attr('stroke-opacity', d => opacity[d.scenario])
    .attr('stroke-width', 1.2)
    .attr('stroke-linejoin', 'round');

  plot.append('line')
    .attr('x1', x(cutoffYear)).attr('x2', x(cutoffYear))
    .attr('y1', 0).attr('y2', panelH)
    .attr('stroke', '#000').attr('stroke-width', 1.3)
    .attr('stroke-dasharray', '4,3');

  const ticks = p.ticks.filter(t => t >= y.domain()[0] && t <= y.domain()[1]);
  const fmt = ticks.every(Number.isInteger) ? d3.format('d') : d3.format('.1f');

  const yAxis = plot.append('g')
    .call(d3.axisLeft(y).tickValues(ticks).tickFormat(fmt).tickSize(3.7).tickSizeOuter(0).tickPadding(2));
  const xAxis = plot.append('g')
    .attr('transform', 'translate(0,' + panelH + ')')
    .call(d3.axisBottom(x).tickValues(xTicks).tickFormat(d3.format('d')).tickSize(3.7).tickSizeOuter(0).tickPadding(4.5));

  [yAxis, xAxis].forEach(a => {
    a.select('.domain').attr('stroke', '#000').attr('stroke-width', 1.2);
    a.selectAll('.tick line').attr('stroke', '#333');
    a.selectAll('.tick text').attr('fill', '#4d4d4d').style('font-size', '12.5px');
    a.attr('font-family', null);
  });
});

// axis titles
svg.append('text')
  .attr('class', 'title')
  .attr('transform', 'translate(21,709) rotate(-90)')
  .attr('text-anchor', 'middle')
  .style('font-size', '14.5px')
  .text('Temperature (°C)');

svg.append('text')
  .attr('class', 'title')
  .attr('x', colLeft + ((nCols - 1) * colStep + panelW) / 2)
  .attr('y', 1426)
  .attr('text-anchor', 'middle')
  .style('font-size', '14.5px')
  .text('Year');

// legend
const legend = svg.append('g').attr('class', 'legend').attr('transform', 'translate(322,1296)');
legend.append('text').attr('x', 6).attr('y', 19).style('font-size', '14px').text('Scenario');
scenarios.forEach((s, i) => {
  const ly = 40 + i * 18;
  legend.append('line')
    .attr('x1', 0).attr('x2', 24).attr('y1', ly).attr('y2', ly)
    .attr('stroke', colors[s]).attr('stroke-opacity', opacity[s]).attr('stroke-width', 1.6);
  legend.append('text')
    .attr('x', 34).attr('y', ly).attr('dy', '0.36em')
    .style('font-size', '12px')
    .text(s);
});

// thin frame line at the right edge of the image
svg.append('line')
  .attr('x1', 1108.5).attr('x2', 1108.5).attr('y1', 0).attr('y2', 1430)
  .attr('stroke', '#d4d4d4').attr('stroke-width', 1);
</script>
</body>
</html>
